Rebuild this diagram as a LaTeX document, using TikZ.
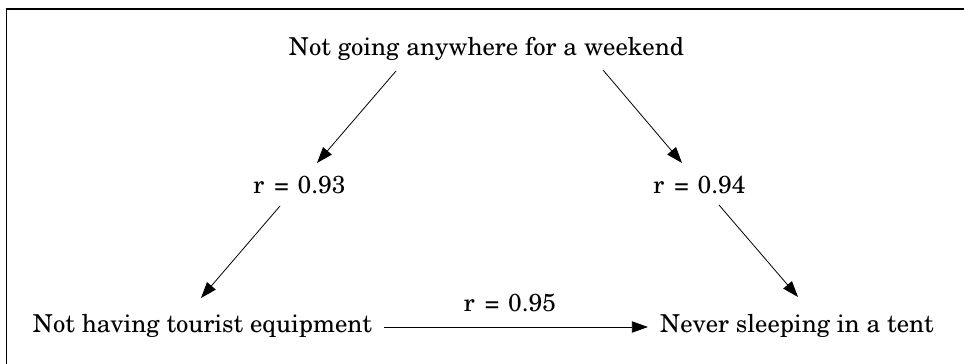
\documentclass[tikz,border=0pt]{standalone}
\usepackage[T1]{fontenc}
\usepackage{newcent}
\usepackage{tikz}
\usetikzlibrary{arrows.meta, positioning, calc}

\newcommand{\corr}[1]{r\hspace{0.4em}=\hspace{0.34em}#1}

\begin{document}
\begin{tikzpicture}[x=0.75pt, y=0.75pt,
  label/.style={inner sep=0pt, anchor=base, font=\fontsize{18.5}{22}\selectfont},
  coef/.style={inner sep=0pt, anchor=base, font=\fontsize{18.5}{22}\selectfont},
  arr/.style={-{Triangle[length=12pt,width=8.5pt]}, line width=0.6pt},
  frame/.style={line width=1.2pt},
]
\useasboundingbox (0,0) rectangle (964,364);

%% Frame (only top and left edges fall inside the picture)
\draw[frame] (6.5,-10) -- (6.5,355) -- (975,355);

%% Variables
\node[label] (top) at (486.5,308) {Not going anywhere for a weekend};
\node[label] (equip) at (202.5,31) {Not having tourist equipment};
\node[label] (tent) at (797,31) {Never sleeping in a tent};

%% Correlations
\node[coef] (r93) at (299.5,170) {\corr{0.93}};
\node[coef] (r94) at (699.5,170) {\corr{0.94}};
\node[coef] (r95) at (510,52) {\corr{0.95}};

\draw[arr] ([shift={(-90.5,-15)}]top.base) -- ([shift={(17.5,31)}]r93.base);
\draw[arr] ([shift={(-19.5,-12)}]r93.base) -- ([shift={(-1.5,35)}]equip.base);
\draw[arr] ([shift={(116.5,-14)}]top.base) -- ([shift={(-17.5,31)}]r94.base);
\draw[arr] ([shift={(19.5,-11)}]r94.base) -- ([shift={(1,36)}]tent.base);
\draw[arr] ([shift={(12,6)}]equip.base east) -- ([shift={(-12,6)}]tent.base west);
\end{tikzpicture}
\end{document}
